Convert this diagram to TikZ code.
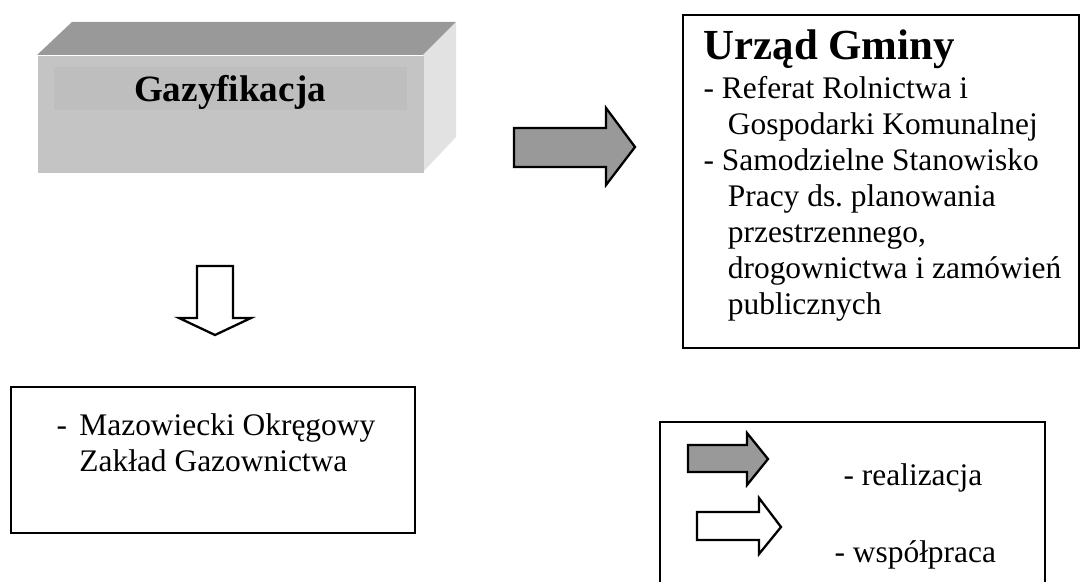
\documentclass[tikz,border=0pt]{standalone}
\usepackage{fontspec}
\setmainfont{Liberation Serif}
\usetikzlibrary{positioning}

\newcommand{\px}{0.35pt}
\definecolor{gris}{HTML}{999999}
\definecolor{face}{HTML}{C4C4C4}
\definecolor{bande}{HTML}{BEBEBE}
\definecolor{cote}{HTML}{E2E2E2}

\begin{document}
\begin{tikzpicture}[x=\px, y=-\px]

    % Styles
    \tikzstyle{boite} = [rectangle, draw=black, semithick, anchor=north west, inner sep=0pt]
    \tikzstyle{texte} = [inner sep=0pt, align=left, font=\fontsize{11}{12.6}\selectfont\frenchspacing]
    \tikzstyle{titre} = [inner sep=0pt, font=\bfseries\fontsize{13}{15}\selectfont]
    \tikzstyle{realisation} = [draw=black, thick, fill=gris]
    \tikzstyle{cooperation} = [draw=black, thick, fill=white]

    \useasboundingbox (0,0) rectangle (1080,582);

    % Bloc Gazyfikacja
    \fill [gris] (37,55) -- (72,22) -- (456,22) -- (423,55) -- cycle;
    \fill [cote] (423,55) -- (456,22) -- (456,137) -- (423,172) -- cycle;
    \node (gaz) [rectangle, anchor=north west, fill=face, minimum width=386*\px, minimum height=117*\px] at (37,55) {};
    \node (gaz-bande) [rectangle, anchor=north west, fill=bande, minimum width=353*\px, minimum height=43*\px] at (53,66) {};
    \node (gaz-titre) [titre, anchor=base] at (230,102) {Gazyfikacja};

    % Boites
    \node (urzad) [boite, minimum width=396*\px, minimum height=333*\px] at (682,14) {};
    \node (urzad-titre) [titre, font=\bfseries\fontsize{15}{17}\selectfont, anchor=base west] at (703,60) {Urząd Gminy};
    \node (urzad-txt) [texte, anchor=north west] at (703,76) {- Referat Rolnictwa i\\
        \hspace*{8.5pt}Gospodarki Komunalnej\\
        - Samodzielne Stanowisko\\
        \hspace*{8.5pt}Pracy ds. planowania\\
        \hspace*{8.5pt}przestrzennego,\\
        \hspace*{8.5pt}drogownictwa i zamówień\\
        \hspace*{8.5pt}publicznych};
    \node (mozg) [boite, minimum width=404*\px, minimum height=146*\px] at (10,386) {};
    \node (mozg-txt) [texte, anchor=north west] at (56,413) {\makebox[8pt][l]{-}Mazowiecki Okręgowy\\
        \hspace*{8pt}Zakład Gazownictwa};
    \node (legende) [boite, minimum width=385*\px, minimum height=200*\px] at (659,421) {};
    \node (leg-real) [texte, anchor=base west] at (843,485) {- realizacja};
    \node (leg-wsp) [texte, anchor=base west] at (834,562) {- współpraca};

    % Flèches
    \draw [realisation] (514,128) -- (606,128) -- (606,108) -- (635,147) -- (606,185) -- (606,167) -- (514,167) -- cycle;
    \draw [cooperation] (197,266) -- (233,266) -- (233,318) -- (251,318) -- (215,335) -- (179,318) -- (197,318) -- cycle;
    \draw [realisation] (688,445) -- (747,445) -- (747,433) -- (768,459) -- (747,485) -- (747,472) -- (688,472) -- cycle;
    \draw [cooperation] (697,512) -- (759,512) -- (759,498) -- (781,527) -- (759,554) -- (759,540) -- (697,540) -- cycle;

\end{tikzpicture}
\end{document}
